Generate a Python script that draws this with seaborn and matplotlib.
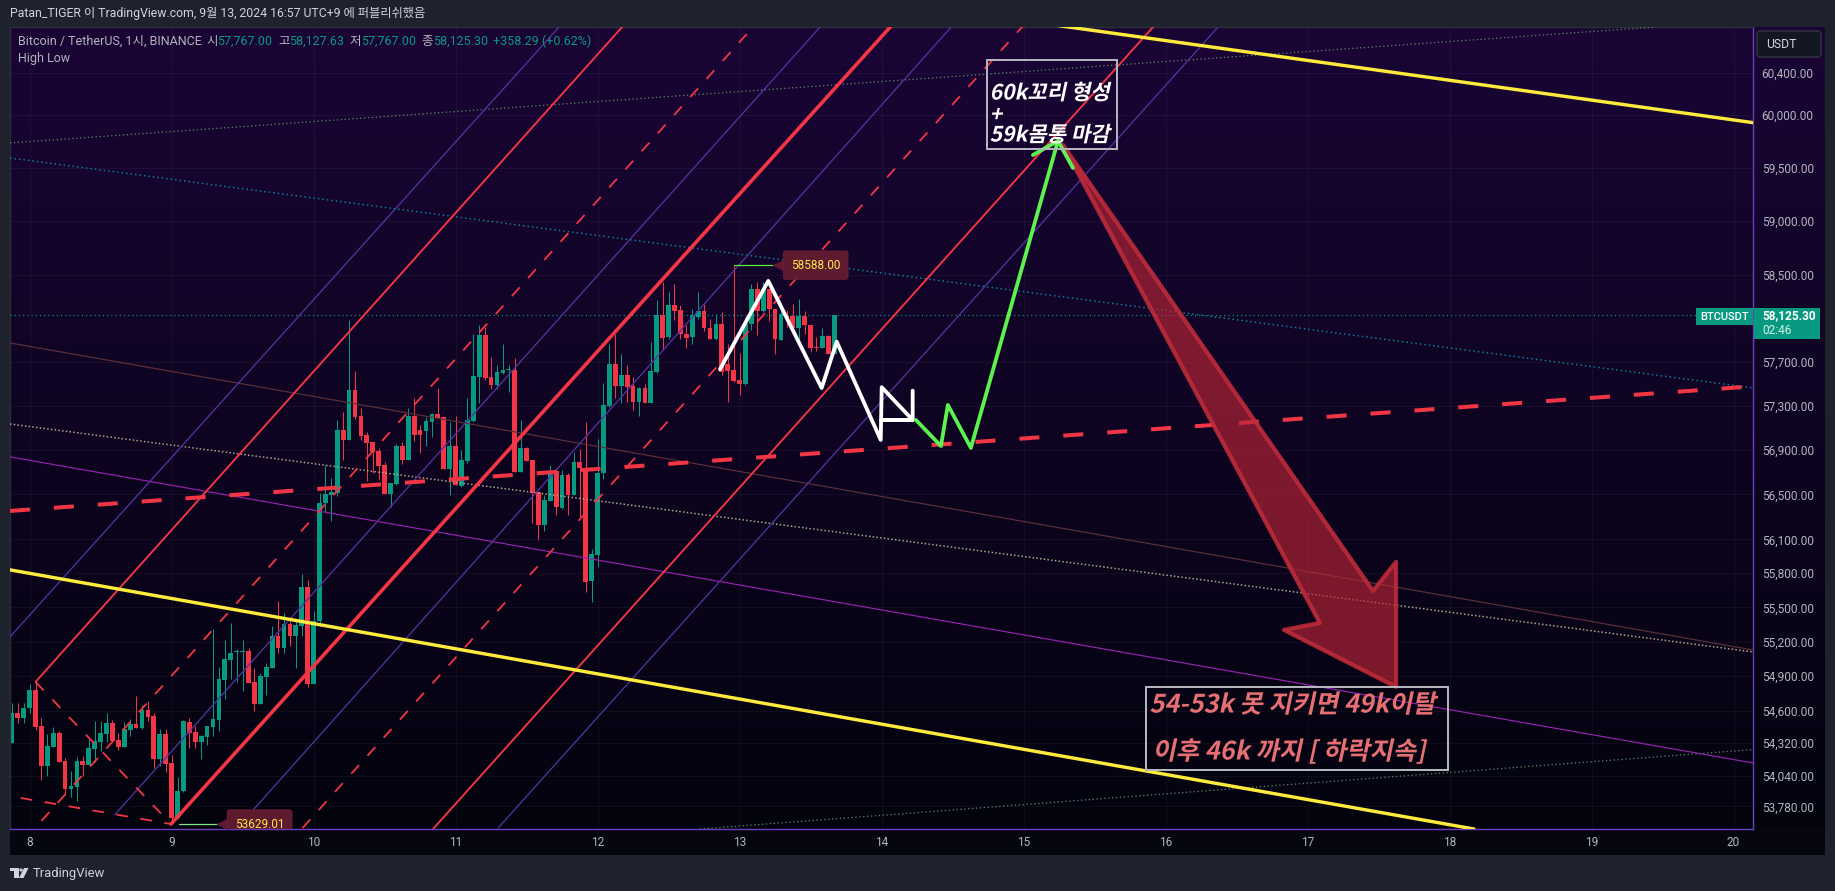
import numpy as np
import matplotlib
matplotlib.use("Agg")
import matplotlib.pyplot as plt
from matplotlib.colors import LinearSegmentedColormap
from matplotlib.patches import Polygon, Rectangle, FancyBboxPatch, Circle
from matplotlib.patheffects import AbstractPathEffect
from matplotlib.ticker import NullLocator
from matplotlib.transforms import Affine2D
import seaborn as sns

# Hourly BTC/USDT candles, first candle at 21:00 on the 7th
candle_open = [
    54321,54578,54535,54621,54776,54466,54127,54290,54406,54168,
    53923,53948,54168,54136,54272,54326,54400,54492,54343,54290,
    54433,54485,54450,54604,54553,54180,54398,54147,53680,53906,
    54503,54412,54332,54376,54463,54521,54862,55038,55109,55109,
    55115,54848,54655,54888,54967,55245,55140,55358,55253,55335,
    55682,54829,55379,56422,56497,56511,57080,56990,57441,57206,
    57034,56971,56890,56765,56505,56595,56935,56809,57206,57080,
    57071,57155,57223,57197,56729,56935,56580,56800,57161,57562,
    57942,57562,57486,57598,57622,57628,56699,56917,56809,56520,
    56229,56446,56714,56378,56675,56497,56795,56735,55729,55964,
    56690,57299,57683,57477,57577,57477,57329,57462,57326,57604,
    58125,57926,58216,58171,57957,57926,58110,58165,58012,57911,
    58042,57677,57622,57532,57495,58042,58370,58162,58370,58186,
    57902,58125,58116,58012,58116,58039,57832,57826,57932,57767]
candle_close = [
    54578,54538,54627,54776,54460,54127,54295,54406,54162,53923,
    53951,54168,54136,54278,54338,54406,54492,54340,54286,54440,
    54485,54450,54604,54543,54180,54398,54140,53680,53909,54510,
    54406,54326,54382,54465,54527,54871,55044,55103,55115,55115,
    54836,54655,54897,54975,55245,55140,55358,55253,55341,55682,
    54829,55384,56422,56502,56520,57080,56990,57441,57200,57028,
    56965,56884,56759,56505,56603,56935,56809,57206,57034,57034,
    57161,57223,57190,56729,56935,56586,56809,57170,57568,57942,
    57553,57483,57604,57622,57628,56699,56917,56803,56511,56229,
    56452,56705,56384,56675,56497,56795,56735,55723,55973,56690,
    57305,57683,57480,57577,57471,57335,57462,57320,57613,58125,
    57920,58216,58162,57951,57920,58125,58165,58009,57911,58042,
    57607,57616,57525,57495,58049,58370,58162,58370,58180,57905,
    58134,58104,58012,58116,58039,57826,57826,57932,57767,58125.30]
candle_high = [
    54664,54664,54670,54829,54848,54535,54398,54455,54425,54190,
    54084,54198,54212,54361,54507,54513,54578,54515,54411,54504,
    54527,54725,54647,54687,54578,54440,54440,54218,54028,54518,
    54533,54470,54390,54470,55312,54978,55213,55364,55133,55213,
    55146,54972,54930,55016,55335,55553,55451,55378,55387,55797,
    55744,55465,56511,56765,56645,57170,57244,58079,57613,57275,
    57064,56974,56914,56795,56606,56957,56974,57275,57366,57124,
    57200,57235,57456,57200,57155,57206,56900,57366,57957,58033,
    58018,57744,57668,57860,57668,57738,57170,56930,56809,56526,
    56497,56765,56735,56720,56690,56884,56905,57155,56015,56995,
    57501,57860,57957,57769,57668,57562,57471,57495,57881,58263,
    58431,58339,58416,58216,58033,58186,58339,58232,58095,58141,
    58156,57865,58588,57775,58110,58416,58431,58431,58370,58186,
    58186,58171,58232,58278,58165,58039,57926,58012,57942,58127.63]
candle_low = [
    54321,54492,54492,54584,54435,54008,54042,54290,54156,53872,
    53858,53821,54042,54136,54156,54256,54326,54335,54264,54290,
    54385,54450,54440,54513,54104,54127,54070,53629.01,53674,53900,
    54282,54282,54180,54305,54379,54425,54699,54871,54848,54770,
    54836,54598,54655,54733,54967,55097,55097,55160,54967,55253,
    54806,54829,55340,56348,56259,56482,56809,56990,57175,56990,
    56624,56690,56630,56505,56384,56586,56773,56809,56980,56875,
    56935,57020,57185,56729,56497,56586,56565,56785,57155,57320,
    57537,57447,57447,57592,57426,56699,56699,56803,56244,56096,
    56170,56446,56318,56369,56318,56497,56289,55632,55545,55855,
    56640,57284,57366,57320,57335,57260,57209,57320,57320,57598,
    57811,57911,58079,57911,57829,57865,58095,57981,57911,57896,
    57577,57335,57516,57395,57486,57994,57942,58156,58070,57769,
    57896,58018,58003,57871,57957,57790,57799,57826,57767,57767]
candle_hour_offset = -3  # hours from the 8th at 00:00 to the first candle

price_ticks = [60400, 60000, 59500, 59000, 58500, 57700, 57300, 56900, 56500,
               56100, 55800, 55500, 55200, 54900, 54600, 54320, 54040, 53780]
day_ticks = list(range(8, 21))
last_price = 58125.30
swing_high = 58588.00
swing_low = 53629.01

# Trend lines as (day, price, day, price)
yellow_lines = [(15.165, 60867, 20.137, 59924), (7.862, 55830, 18.172, 53587)]
red_thick_lines = [(8.996, 53629, 14.08, 60867)]
red_thin_lines = [(8.042, 54849, 12.186, 60858), (10.841, 53587, 15.925, 60858)]
red_dash_lines = [(8.084, 53656, 13.108, 60858), (9.922, 53595, 15.003, 60858),
                  (8.042, 54849, 8.996, 53629), (7.937, 53851, 8.996, 53629)]
purple_lines = [(7.862, 55241, 11.742, 60858), (8.599, 53707, 13.58, 60858),
                (9.461, 53595, 14.503, 60858), (11.299, 53595, 16.383, 60858)]
median_line = (7.862, 56353, 20.08, 57470)
teal_dotted_line = (7.862, 59590, 20.137, 57461)
brown_line = (7.862, 57871, 20.137, 55127)
cream_dotted_line = (7.862, 57134, 20.137, 55110)
magenta_line = (7.862, 56837, 20.137, 54150)
upper_grey_dotted_line = (7.862, 59732, 19.454, 60838)
lower_grey_dotted_line = (12.72, 53587, 20.137, 54265)

# Projected price paths
white_path_days = [12.862, 13.202, 13.578, 13.684, 13.994, 14.001, 14.219, 14.001, 14.219, 14.219]
white_path_prices = [57631, 58442, 57460, 57883, 56990, 57467, 57170, 57170, 57170, 57436]
green_path_days = [14.242, 14.418, 14.467, 14.629, 15.242]
green_path_prices = [57170, 56935, 57306, 56918, 59751]
green_tail_days = [15.066, 15.242, 15.348]
green_tail_prices = [59618, 59751, 59496]
arrow_days = [15.277, 17.461, 17.623, 17.623, 16.834, 17.087]
arrow_prices = [59713, 55644, 55900, 54806, 55302, 55363]

RED = "#f23645"
GREEN = "#089981"
PURPLE = "#54339f"
FONT = ["Roboto", "Noto Sans CJK KR"]
PX = 0.72  # points per pixel at 100 dpi

sns.set_theme(style="dark")
plt.rcParams["font.family"] = FONT

fig = plt.figure(figsize=(18.35, 8.91), dpi=100, facecolor="#1e222d")
px = Affine2D().scale(1, -1).translate(0, 891)  # top-left pixel origin


class Slant(AbstractPathEffect):
    """Shears glyph outlines about a baseline, for faces with no italic cut."""

    def __init__(self, baseline, degrees=12):
        super().__init__()
        self.baseline = baseline
        self.degrees = degrees

    def draw_path(self, renderer, gc, tpath, affine, rgbFace=None):
        shear = Affine2D().translate(0, -self.baseline).skew_deg(self.degrees, 0).translate(0, self.baseline)
        renderer.draw_path(gc, tpath, affine + shear, rgbFace)


def rect_axes(x0, y0, x1, y1):
    return [x0 / 1835, (891 - y1) / 891, (x1 - x0) / 1835, (y1 - y0) / 891]


# Chart and price-scale backdrop
bg = fig.add_axes(rect_axes(10, 27, 1825, 829), zorder=0)
cmap = LinearSegmentedColormap.from_list("night", ["#1a0535", "#03030e"])
bg.imshow(np.linspace(0, 1, 256).reshape(-1, 1), aspect="auto", cmap=cmap)
bg.set_axis_off()
fig.add_artist(Rectangle((10, 829), 1815, 26, transform=px, fc="#05060f", ec="none", zorder=0))

ax = fig.add_axes(rect_axes(10, 27, 1753, 829), zorder=2)
ax.patch.set_visible(False)
ax.set_yscale("log")


def draw_line(seg, color, width_px, style="-", z=3):
    sns.lineplot(x=[seg[0], seg[2]], y=[seg[1], seg[3]], ax=ax, color=color,
                 linewidth=width_px * PX, linestyle=style, estimator=None,
                 errorbar=None, sort=False, legend=False, zorder=z)


def draw_path(days, prices, color, width_px, z=5):
    line = sns.lineplot(x=days, y=prices, ax=ax, color=color, linewidth=width_px * PX,
                        estimator=None, errorbar=None, sort=False, legend=False, zorder=z)
    line.lines[-1].set_solid_joinstyle("round")
    line.lines[-1].set_solid_capstyle("round")


# Candles
days = 8 + (np.arange(len(candle_open)) + candle_hour_offset) / 24
opens, closes = np.array(candle_open), np.array(candle_close)
colors = np.where(closes >= opens, GREEN, RED)
ax.vlines(days, candle_low, candle_high, colors=colors, linewidth=1 * PX, zorder=2)
ax.bar(days, np.maximum(np.abs(closes - opens), 8), bottom=np.minimum(opens, closes),
       width=0.8 / 24, color=colors, linewidth=0, zorder=2.5)

# Long-range reference lines
draw_line(teal_dotted_line, "#0f7f9c", 1.5, (0, (1, 2)))
draw_line(brown_line, "#5c3038", 1.2)
draw_line(cream_dotted_line, "#b5a68c", 1.5, (0, (1, 1.5)))
draw_line(magenta_line, "#9423ad", 1.2)
draw_line(upper_grey_dotted_line, "#5f7f66", 1.3, (0, (1, 2)))
draw_line(lower_grey_dotted_line, "#5f7f66", 1.3, (0, (1, 2)))
sns.lineplot(x=[7.862, 20.137], y=[last_price, last_price], ax=ax, color=GREEN,
             linewidth=1.2 * PX, linestyle=(0, (1, 2.5)), estimator=None, errorbar=None,
             sort=False, legend=False, zorder=3)

# Pitchfork channel
for seg in purple_lines:
    draw_line(seg, PURPLE, 1.3)
for seg in red_thin_lines:
    draw_line(seg, RED, 1.9)
for seg in red_dash_lines:
    draw_line(seg, RED, 1.8, (0, (6.5, 7)))
for seg in red_thick_lines:
    draw_line(seg, RED, 3.6)
draw_line(median_line, RED, 4.0, (0, (5, 6)))
for seg in yellow_lines:
    draw_line(seg, "#ffeb3b", 3.4)

# Swing-high and swing-low markers
high_day = days[int(np.argmax(candle_high))]
low_day = days[int(np.argmin(candle_low))]
sns.lineplot(x=[high_day, high_day + 0.367], y=[swing_high, swing_high], ax=ax, color="#5cf23a",
             linewidth=1.2 * PX, estimator=None, errorbar=None, sort=False, legend=False, zorder=4)
sns.lineplot(x=[low_day + 0.05, low_day + 0.42], y=[swing_low, swing_low], ax=ax, color="#7ee787",
             linewidth=1.2 * PX, estimator=None, errorbar=None, sort=False, legend=False, zorder=4)
for text, day, price, dx, clip in [(f"{swing_high:.2f}", high_day, swing_high, 82, False),
                                   (f"{swing_low:.2f}", low_day, swing_low, 88, True)]:
    label = ax.annotate(text, xy=(day, price), xytext=(dx * PX, 0), textcoords="offset points",
                        color="#ffe94a", fontsize=8.5, ha="center", va="center", zorder=6,
                        bbox=dict(boxstyle="round,pad=0.65,rounding_size=0.2", fc="#5e1a2f",
                                  ec="#701f35", lw=0.6))
    if clip:
        label.get_bbox_patch().set_clip_box(ax.bbox)
        label.get_bbox_patch().set_clip_on(True)
    ax.plot([day], [price], marker="<", ms=9, mfc="#5e1a2f", mec="none", zorder=5.8,
            transform=ax.transData + Affine2D().translate(dx - 38, 0), clip_on=clip)

# Forecast arrow
ax.add_patch(Polygon(np.column_stack([arrow_days, arrow_prices]), closed=True,
                     fc=(0.72, 0.14, 0.21, 0.66), ec=(0.74, 0.17, 0.23, 0.9),
                     lw=4.2 * PX, joinstyle="round", zorder=4))

# Projected paths
draw_path(white_path_days, white_path_prices, "white", 3.8)
draw_path(green_path_days, green_path_prices, "#5cf24f", 3.8)
draw_path(green_tail_days, green_tail_prices, "#5cf24f", 3.8)

# Axis limits, ticks and grid
ax.set_xlim(7.862, 20.137)
ax.set_ylim(53587, 60838)
ax.set_xlabel("")
ax.set_ylabel("")
ax.set_xticks(day_ticks, [str(d) for d in day_ticks])
ax.yaxis.tick_right()
ax.set_yticks(price_ticks, [f"{p:,.2f}" for p in price_ticks])
ax.yaxis.set_minor_locator(NullLocator())
ax.tick_params(axis="both", length=0, labelcolor="#b2b5be", labelsize=8.6)
ax.tick_params(axis="y", pad=6.2)
ax.tick_params(axis="x", pad=5.0)
ax.grid(True, color="white", alpha=0.045, linewidth=0.8)
ax.set_axisbelow(True)
for side, col in [("right", "#6a3fc0"), ("bottom", "#6a3fc0"), ("top", "#2a2e39"), ("left", "#2a2e39")]:
    ax.spines[side].set_color(col)
    ax.spines[side].set_linewidth(1.0)
    ax.spines[side].set_visible(True)


def slanted(x, y, text, color, size):
    t = fig.text(x, 891 - y, text, transform=None, color=color, fontsize=size, va="center", ha="left",
                 family=["Noto Sans CJK KR"], fontweight="bold", zorder=8)
    t.set_path_effects([Slant(891 - y)])
    return t


# Annotation boxes
fig.add_artist(Rectangle((987, 60), 130, 89, transform=px, fc="none", ec="#b4b2bf", lw=2 * PX, zorder=7))
for text, y in [("60k꼬리 형성", 93), ("+", 115), ("59k몸통 마감", 135)]:
    slanted(991, y, text, "white", 15.2)
fig.add_artist(Rectangle((1146, 687), 302, 83, transform=px, fc="none", ec="#b4b6bd", lw=2 * PX, zorder=7))
slanted(1151, 705, "54-53k 못 지키면 49k이탈", "#e56f72", 18.2)
slanted(1154, 752, "이후 46k 까지 [ 하락지속]", "#e56f72", 18.2)

# Window header and legend line
fig.text(10, 891 - 14, "Patan_TIGER 이 TradingView.com, 9월 13, 2024 16:57 UTC+9 에 퍼블리쉬했음",
         transform=None, color="#d1d4dc", fontsize=8.85, va="center")
fig.text(18, 891 - 41.5, "Bitcoin / TetherUS, 1시, BINANCE", transform=None, color="#b2b5be",
         fontsize=9, va="center", zorder=8)
fig.text(18, 891 - 58.5, "High Low", transform=None, color="#b2b5be", fontsize=9, va="center", zorder=8)
for key, x, value, vx in [("시", 206, "57,767.00", 217), ("고", 278, "58,127.63", 289),
                          ("저", 349, "57,767.00", 361), ("종", 421, "58,125.30", 433)]:
    fig.text(x, 891 - 41.5, key, transform=None, color="#b2b5be", fontsize=9, va="center", zorder=8)
    fig.text(vx, 891 - 41.5, value, transform=None, color=GREEN, fontsize=9, va="center", zorder=8)
fig.text(493, 891 - 41.5, "+358.29 (+0.62%)", transform=None, color=GREEN, fontsize=9, va="center", zorder=8)

# Price tags and currency button
fig.add_artist(Rectangle((1696, 308), 57, 17, transform=px, fc=GREEN, ec="none", zorder=7))
fig.add_artist(Rectangle((1754, 308), 66, 31, transform=px, fc=GREEN, ec="none", zorder=7))
fig.text(1724.5, 891 - 316.5, "BTCUSDT", transform=None, color="white", fontsize=8.0,
         ha="center", va="center", fontweight="medium", zorder=8)
fig.text(1762, 891 - 315.5, f"{last_price:,.2f}", transform=None, color="white", fontsize=8.6,
         va="center", fontweight="bold", zorder=8)
fig.text(1762, 891 - 330, "02:46", transform=None, color="#d5f0ea", fontsize=8.6, va="center", zorder=8)
fig.add_artist(FancyBboxPatch((1759, 33), 60, 22, transform=px, fc="#131722", ec="#363a45", lw=0.9,
                              boxstyle="round,pad=2,rounding_size=3", zorder=7))
fig.text(1766, 891 - 44, "USDT", transform=None, color="#d1d4dc", fontsize=8.8, va="center", zorder=8)

# Footer brand mark
logo = "#d1d4dc"
fig.add_artist(Rectangle((10, 868), 8.5, 3.2, transform=px, fc=logo, ec="none"))
fig.add_artist(Rectangle((14.2, 868), 4.3, 10, transform=px, fc=logo, ec="none"))
fig.add_artist(Circle((21, 870), 1.6, transform=px, fc=logo, ec="none"))
fig.add_artist(Polygon([(19, 878), (24, 868), (28.5, 868), (23.5, 878)], closed=True, transform=px, fc=logo, ec="none"))
fig.text(33, 891 - 873.5, "TradingView", transform=None, color=logo, fontsize=9.4, va="center")

fig.savefig("out.png", dpi=100, facecolor=fig.get_facecolor())
